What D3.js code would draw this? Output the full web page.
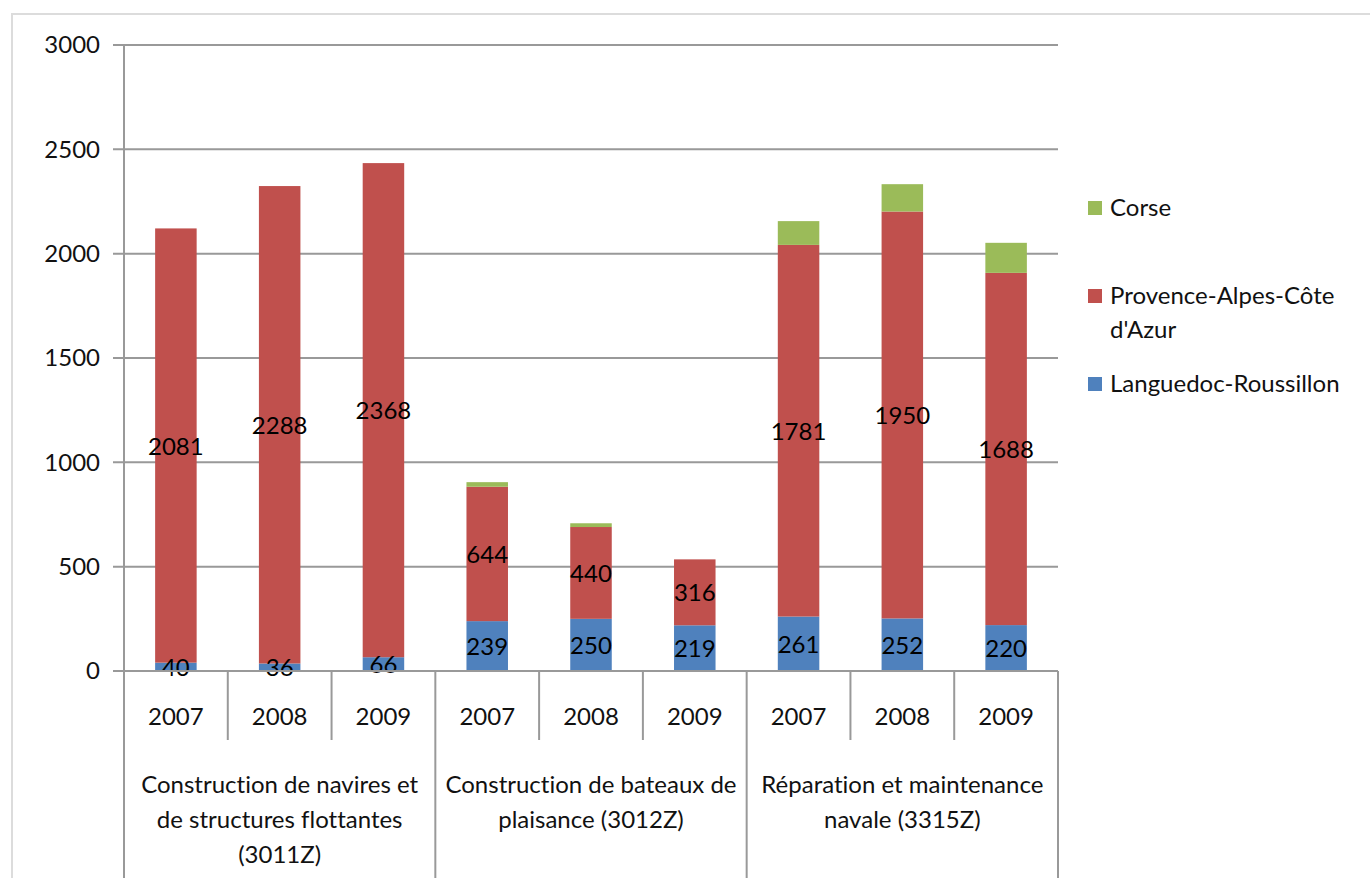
<!DOCTYPE html>
<html>
<head>
<meta charset="utf-8">
<script src="https://cdn.jsdelivr.net/npm/d3@7"></script>
<style>
  body { margin: 0; background: #fff; }
  text { font-family: Lato, "Open Sans", sans-serif; fill: #111; font-variant-ligatures: none; }
</style>
</head>
<body>
<div id="chart"></div>
<script>
// data
var groupLabels = [
  ["Construction de navires et", "de structures flottantes", "(3011Z)"],
  ["Construction de bateaux  de", "plaisance (3012Z)"],
  ["Réparation et maintenance", "navale (3315Z)"]
];
var years = ["2007", "2008", "2009"];
var languedoc = [40, 36, 66, 239, 250, 219, 261, 252, 220];
var paca = [2081, 2288, 2368, 644, 440, 316, 1781, 1950, 1688];
var corse = [0, 0, 0, 22, 18, 0, 114, 131, 144];
var yTicks = [0, 500, 1000, 1500, 2000, 2500, 3000];
var seriesNames = ["Languedoc-Roussillon", "Provence-Alpes-Côte d'Azur", "Corse"];
var legendLines = [["Corse"], ["Provence-Alpes-Côte", "d'Azur"], ["Languedoc-Roussillon"]];
var colors = ["#4f81bd", "#c0504d", "#9bbb59"];

function draw() {
  var W = 1370, H = 878;
  var plotLeft = 124, plotRight = 1058, plotTop = 45, plotBottom = 671;
  var gridColor = "#999";

  var svg = d3.select("#chart").append("svg")
      .attr("width", W)
      .attr("height", H);

  // outer chart border
  svg.append("rect")
      .attr("x", 12).attr("y", 14)
      .attr("width", W + 20).attr("height", H + 20)
      .attr("fill", "none")
      .attr("stroke", "#dcdcdc")
      .attr("stroke-width", 2);

  // build rows: one per bar
  var rows = [];
  groupLabels.forEach(function(g, gi) {
    years.forEach(function(yr, yi) {
      var i = gi * 3 + yi;
      rows.push({key: gi + "-" + yr, group: gi, year: yr,
                 vals: [languedoc[i], paca[i], corse[i]]});
    });
  });

  var x = d3.scaleBand()
      .domain(rows.map(function(d) { return d.key; }))
      .range([plotLeft, plotRight])
      .paddingInner(0.6)
      .paddingOuter(0.3);

  var xGroup = d3.scaleBand()
      .domain(d3.range(groupLabels.length))
      .range([plotLeft, plotRight]);

  var y = d3.scaleLinear()
      .domain([0, 3000])
      .range([plotBottom, plotTop]);

  // gridlines + y ticks
  svg.selectAll(".grid")
      .data(yTicks)
    .enter().append("line")
      .attr("class", "grid")
      .attr("x1", plotLeft - 11).attr("x2", plotRight)
      .attr("y1", function(d) { return y(d); })
      .attr("y2", function(d) { return y(d); })
      .attr("stroke", gridColor)
      .attr("stroke-width", 2);

  svg.selectAll(".ytick")
      .data(yTicks)
    .enter().append("text")
      .attr("class", "ytick")
      .attr("x", 100)
      .attr("y", function(d) { return y(d); })
      .attr("dy", "0.35em")
      .attr("text-anchor", "end")
      .style("font-size", "24px")
      .text(function(d) { return d; });

  // stacked bars
  var stack = rows.map(function(r) {
    var y0 = 0;
    return r.vals.map(function(v, si) {
      return {key: r.key, s: si, v: v, y0: y0, y1: y0 += v};
    });
  });

  var barG = svg.selectAll(".bar")
      .data(stack)
    .enter().append("g")
      .attr("class", "bar");

  barG.selectAll("rect")
      .data(function(d) { return d.filter(function(e) { return e.v > 0; }); })
    .enter().append("rect")
      .attr("x", function(d) { return x(d.key); })
      .attr("width", x.bandwidth())
      .attr("y", function(d) { return y(d.y1); })
      .attr("height", function(d) { return y(d.y0) - y(d.y1); })
      .attr("fill", function(d) { return colors[d.s]; });

  // axis lines
  svg.append("line")
      .attr("x1", plotLeft).attr("x2", plotLeft)
      .attr("y1", plotTop).attr("y2", H)
      .attr("stroke", gridColor).attr("stroke-width", 2);

  svg.append("line")
      .attr("x1", plotLeft - 11).attr("x2", plotRight)
      .attr("y1", plotBottom).attr("y2", plotBottom)
      .attr("stroke", gridColor).attr("stroke-width", 2);

  // year separators (right edge of each band)
  var step = x.step();
  svg.selectAll(".ysep")
      .data(rows)
    .enter().append("line")
      .attr("class", "ysep")
      .attr("x1", function(d) { return x(d.key) - x.bandwidth() * 0.75 + step; })
      .attr("x2", function(d) { return x(d.key) - x.bandwidth() * 0.75 + step; })
      .attr("y1", plotBottom)
      .attr("y2", function(d, i) { return (i % 3 == 2) ? H : 740; })
      .attr("stroke", gridColor).attr("stroke-width", 2);

  // data labels (first two series)
  barG.selectAll(".lbl")
      .data(function(d) { return d.slice(0, 2); })
    .enter().append("text")
      .attr("class", "lbl")
      .attr("x", function(d) { return x(d.key) + x.bandwidth() / 2; })
      .attr("y", function(d) { return y((d.y0 + d.y1) / 2); })
      .attr("dy", "0.38em")
      .attr("text-anchor", "middle")
      .style("font-size", "24px")
      .style("fill", "#000")
      .text(function(d) { return d.v; });

  // year labels
  svg.selectAll(".year")
      .data(rows)
    .enter().append("text")
      .attr("class", "year")
      .attr("x", function(d) { return x(d.key) + x.bandwidth() / 2; })
      .attr("y", 717)
      .attr("dy", "0.35em")
      .attr("text-anchor", "middle")
      .style("font-size", "24px")
      .text(function(d) { return d.year; });

  // group labels
  var gl = svg.selectAll(".glabel")
      .data(groupLabels)
    .enter().append("text")
      .attr("class", "glabel")
      .attr("text-anchor", "middle")
      .style("font-size", "24px");

  gl.selectAll("tspan")
      .data(function(d, i) { return d.map(function(t) { return {t: t, g: i}; }); })
    .enter().append("tspan")
      .attr("x", function(d) { return xGroup(d.g) + xGroup.bandwidth() / 2; })
      .attr("y", function(d, i) { return 785 + i * 35; })
      .attr("dy", "0.35em")
      .text(function(d) { return d.t; });

  // legend
  var legendY = [208, 296, 384];
  var legend = svg.selectAll(".legend")
      .data(legendLines)
    .enter().append("g")
      .attr("class", "legend")
      .attr("transform", function(d, i) { return "translate(1088," + legendY[i] + ")"; });

  legend.append("rect")
      .attr("x", 0).attr("y", -7)
      .attr("width", 14).attr("height", 14)
      .attr("fill", function(d, i) { return colors[2 - i]; });

  legend.append("text")
      .style("font-size", "24px")
      .selectAll("tspan")
      .data(function(d) { return d; })
    .enter().append("tspan")
      .attr("x", 22)
      .attr("y", function(d, i) { return i * 34; })
      .attr("dy", "0.35em")
      .text(function(d) { return d; });
}

draw();
</script>
</body>
</html>
